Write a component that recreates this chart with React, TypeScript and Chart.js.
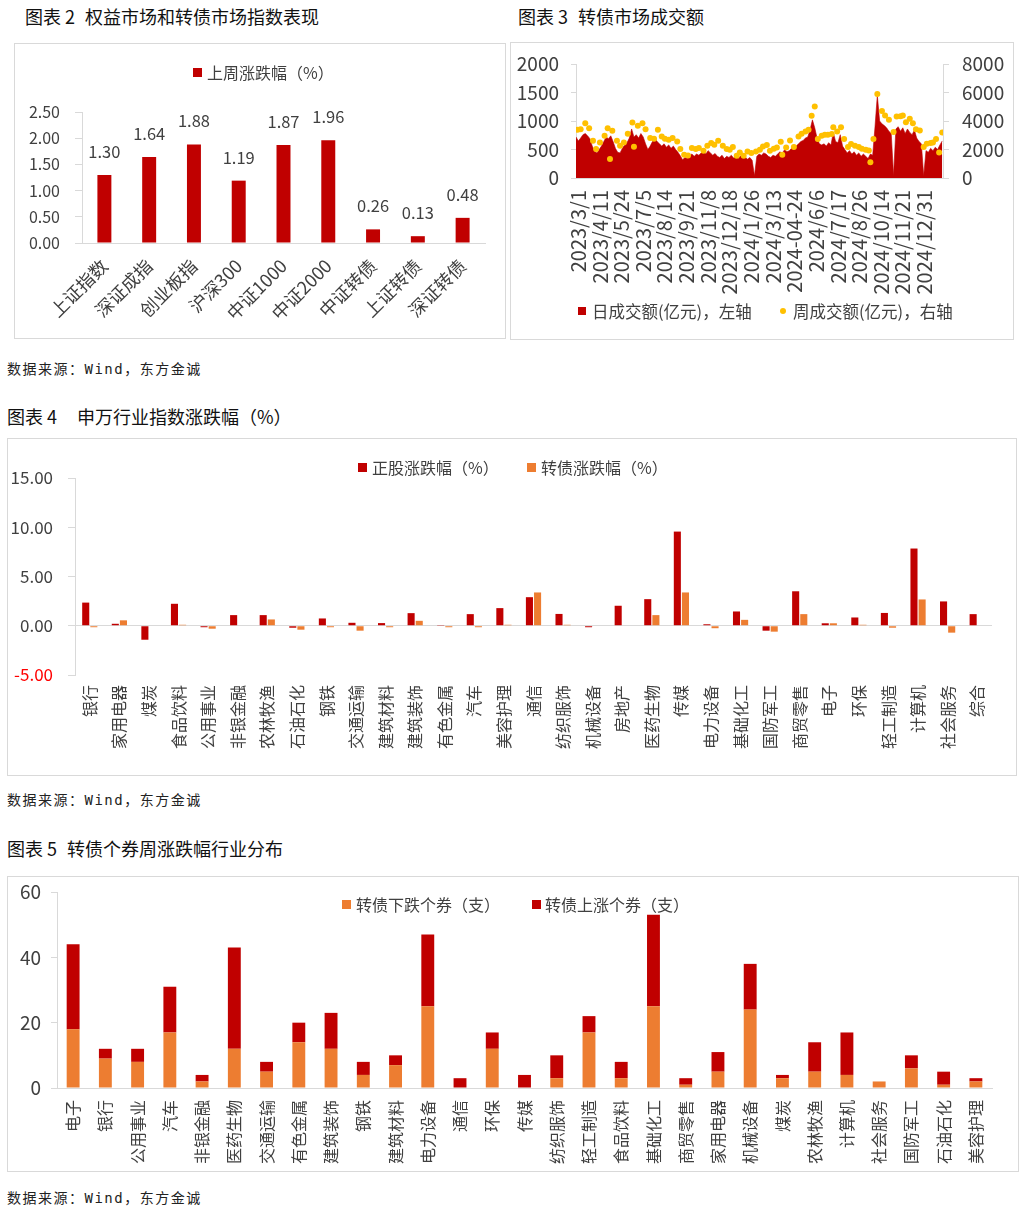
import React, { useEffect, useRef } from "react";
import { Chart, registerables } from "chart.js";

Chart.register(...registerables);

const FONT = '"Noto Sans CJK SC", "Noto Sans", sans-serif';
const RED = "#C00000";
const ORANGE = "#ED7D31";
const GOLD = "#FFC000";
const AXIS = "#D9D9D9";
const TXT = "#404040";

Chart.defaults.font.family = FONT;
Chart.defaults.color = TXT;

// ---------- 图表2 权益市场和转债市场指数表现 ----------
const indexNames = ["上证指数", "深证成指", "创业板指", "沪深300", "中证1000", "中证2000", "中证转债", "上证转债", "深证转债"];
const indexWeekChange = [1.3, 1.64, 1.88, 1.19, 1.87, 1.96, 0.26, 0.13, 0.48];

// ---------- 图表3 转债市场成交额 ----------
const turnoverTickLabels = [
  "2023/3/1", "2023/4/11", "2023/5/24", "2023/7/5", "2023/8/14", "2023/9/21", "2023/11/8", "2023/12/18",
  "2024/1/26", "2024/3/13", "2024-04-24", "2024/6/6", "2024/7/17", "2024/8/26", "2024/10/14", "2024/11/21", "2024/12/31",
];
const TICK_FIRST_DAY = 3;
const TICK_EVERY_DAYS = 28;
const DAILY_STEP_DAYS = 3;
// 日成交额(亿元) sampled every 3 trading days
const dailyTurnover = [
  720, 650, 700, 760, 780, 740, 690, 560, 470, 440,
  500, 560, 640, 720, 690, 740, 640, 520, 450, 440,
  520, 580, 620, 700, 860, 720, 760, 700, 780, 720,
  600, 500, 560, 640, 700, 640, 600, 560, 600, 540,
  580, 520, 560, 500, 450, 390, 320, 360, 340, 390,
  420, 380, 420, 400, 440, 470, 420, 480, 440, 400,
  430, 380, 360, 400, 340, 380, 360, 400, 350, 380,
  340, 390, 350, 370, 330, 360, 310, 40, 380, 420,
  400, 440, 420, 380, 360, 400, 380, 420, 460, 430,
  500, 460, 480, 520, 580, 560, 600, 640, 660, 700,
  720, 850, 1020, 880, 700, 600, 580, 600, 560, 620,
  580, 800, 640, 620, 760, 560, 500, 440, 480, 420,
  460, 400, 440, 380, 420, 380, 340, 420, 400, 900,
  1450, 1000, 950, 920, 880, 820, 780, 40, 860, 900,
  820, 880, 780, 860, 800, 760, 840, 700, 640, 600,
  40, 480, 450, 520, 480, 540, 500, 580, 650,
];
// 周成交额(亿元): trading-day index of each week and value
const weeklyDayIndex = [
  2, 6, 12, 17, 22, 26, 31, 37, 41, 44,
  47, 53, 57, 62, 67, 73, 75, 80, 86, 90,
  96, 101, 106, 111, 115, 120, 125, 131, 135, 140,
  145, 150, 155, 159, 165, 170, 175, 179, 184, 190,
  195, 199, 203, 208, 212, 217, 222, 227, 233, 238,
  242, 247, 251, 256, 260, 265, 267, 272, 277, 282,
  288, 292, 297, 301, 305, 309, 313, 318, 322, 326,
  331, 333, 338, 343, 347, 352, 356, 361, 366, 370,
  375, 379, 381, 385, 390, 396, 400, 405, 411, 415,
  420, 423, 427, 432, 436, 440, 445, 450, 454, 459,
  462, 466, 470, 474,
];
const weeklyTurnover = [
  3380, 3420, 3850, 3500, 2610, 2030, 2490, 2960, 3500, 1330,
  3310, 2610, 2260, 2490, 3100, 3890, 2190, 3660, 3850, 3420,
  2800, 2750, 3380, 2910, 2750, 2680, 2800, 2560, 2030, 1630,
  1580, 2100, 2030, 2100, 1910, 2260, 2450, 2330, 2610, 2260,
  2030, 1980, 2170, 1560, 1790, 1560, 1860, 1750, 1860, 1980,
  2210, 2310, 1910, 2050, 2140, 2540, 1630, 2140, 2630, 2170,
  2910, 3100, 3260, 3380, 4360, 5010, 2730, 2960, 3030, 3030,
  3080, 3560, 3260, 3560, 2730, 2170, 2380, 2260, 2170, 2050,
  1980, 1930, 1100, 2730, 5900, 4710, 4380, 4080, 3220, 4310,
  4330, 4380, 3910, 4150, 3850, 3420, 3330, 2170, 2400, 2450,
  2490, 2730, 1790, 3190,
];

// ---------- 图表4 申万行业指数涨跌幅 ----------
const swIndustries = [
  "银行", "家用电器", "煤炭", "食品饮料", "公用事业", "非银金融", "农林牧渔", "石油石化", "钢铁", "交通运输",
  "建筑材料", "建筑装饰", "有色金属", "汽车", "美容护理", "通信", "纺织服饰", "机械设备", "房地产", "医药生物",
  "传媒", "电力设备", "基础化工", "国防军工", "商贸零售", "电子", "环保", "轻工制造", "计算机", "社会服务", "综合",
];
const stockChange = [
  2.35, 0.2, -1.42, 2.23, -0.15, 1.08, 1.08, -0.2, 0.74, 0.3,
  0.27, 1.28, 0.02, 1.18, 1.79, 2.9, 1.2, -0.15, 2.03, 2.7,
  9.56, 0.15, 1.45, -0.5, 3.5, 0.25, 0.84, 1.3, 7.84, 2.47, 1.18,
];
const cbChange = [
  -0.15, 0.55, 0, 0.1, -0.3, 0, 0.64, -0.4, -0.15, -0.5,
  -0.15, 0.5, -0.15, -0.15, 0.1, 3.38, 0.1, 0, 0, 1.08,
  3.38, -0.25, 0.6, -0.6, 1.18, 0.25, 0.1, -0.2, 2.67, -0.7, 0,
];

// ---------- 图表5 转债个券周涨跌幅行业分布 ----------
const cbIndustries = [
  "电子", "银行", "公用事业", "汽车", "非银金融", "医药生物", "交通运输", "有色金属", "建筑装饰", "钢铁",
  "建筑材料", "电力设备", "通信", "环保", "传媒", "纺织服饰", "轻工制造", "食品饮料", "基础化工", "商贸零售",
  "家用电器", "机械设备", "煤炭", "农林牧渔", "计算机", "社会服务", "国防军工", "石油石化", "美容护理",
];
const cbDownCount = [18, 9, 8, 17, 2, 12, 5, 14, 12, 4, 7, 25, 0, 12, 0, 3, 17, 3, 25, 1, 5, 24, 3, 5, 4, 2, 6, 1, 2];
const cbUpCount = [26, 3, 4, 14, 2, 31, 3, 6, 11, 4, 3, 22, 3, 5, 4, 7, 5, 5, 28, 2, 6, 14, 1, 9, 13, 0, 4, 4, 1];

// ---------- helpers ----------
const fixW = (w: number) => (s: any) => {
  s.width = w;
  s.paddingTop = 0;
  s.paddingBottom = 0;
};
const fixH = (h: number) => (s: any) => {
  s.height = h;
};
const font = (size: number) => ({ family: FONT, size });

const baseOptions = {
  responsive: false,
  maintainAspectRatio: false,
  animation: false as const,
  devicePixelRatio: 1,
  events: [] as any[],
};

const barValueLabels = {
  id: "barValueLabels",
  afterDatasetsDraw(chart: any) {
    const ctx = chart.ctx;
    const meta = chart.getDatasetMeta(0);
    ctx.save();
    ctx.font = `16.5px ${FONT}`;
    ctx.fillStyle = TXT;
    ctx.textAlign = "center";
    ctx.textBaseline = "alphabetic";
    meta.data.forEach((el: any, i: number) => {
      ctx.fillText(indexWeekChange[i].toFixed(2), el.x, el.y - 17);
    });
    ctx.restore();
  },
};

function ChartCanvas({ width, height, make }: { width: number; height: number; make: () => any }) {
  const ref = useRef<HTMLCanvasElement>(null);
  useEffect(() => {
    const chart = new Chart(ref.current as HTMLCanvasElement, make());
    return () => chart.destroy();
  }, []);
  return <canvas ref={ref} width={width} height={height} style={{ display: "block", width, height }} />;
}

function Box({ left, top, width, height, children }: any) {
  return (
    <div
      style={{
        position: "absolute",
        left,
        top,
        width,
        height,
        border: `1px solid ${AXIS}`,
        boxSizing: "border-box",
        background: "#fff",
      }}
    >
      {children}
    </div>
  );
}

function Title({ x, y, num, text, gap = 10 }: any) {
  return (
    <div
      style={{
        position: "absolute",
        left: x,
        top: y - 12,
        height: 24,
        lineHeight: "24px",
        fontSize: 18,
        color: "#111",
        whiteSpace: "nowrap",
        fontFamily: FONT,
      }}
    >
      <span>{num}</span>
      <span style={{ marginLeft: gap }}>{text}</span>
    </div>
  );
}

function Source({ y }: { y: number }) {
  return (
    <div
      style={{
        position: "absolute",
        left: 7,
        top: y - 10,
        height: 20,
        lineHeight: "20px",
        fontSize: 14,
        letterSpacing: 1.5,
        color: "#222",
        whiteSpace: "nowrap",
        fontFamily: '"DejaVu Sans Mono", "Noto Sans CJK SC", monospace',
      }}
    >
      数据来源：Wind，东方金诚
    </div>
  );
}

function Legend({ x, y, color, label, dot = false, size = 16, gap = 5, mark = 9 }: any) {
  return (
    <div
      style={{
        position: "absolute",
        left: x,
        top: y - 11,
        height: 22,
        lineHeight: "22px",
        display: "flex",
        alignItems: "center",
        fontSize: size,
        color: TXT,
        whiteSpace: "nowrap",
        fontFamily: FONT,
      }}
    >
      <span
        style={{
          display: "inline-block",
          width: mark,
          height: mark,
          borderRadius: dot ? "50%" : 0,
          background: color,
          marginRight: gap,
        }}
      />
      {label}
    </div>
  );
}

// ---------- chart configs ----------
const makeIndexChart = () => ({
  type: "bar",
  data: {
    labels: indexNames,
    datasets: [
      {
        label: "上周涨跌幅（%）",
        data: indexWeekChange,
        backgroundColor: RED,
        categoryPercentage: 0.8,
        barPercentage: 0.39,
      },
    ],
  },
  options: {
    ...baseOptions,
    layout: { padding: { top: 68, right: 20, left: 0, bottom: 0 } },
    plugins: { legend: { display: false }, tooltip: { enabled: false } },
    scales: {
      x: {
        grid: { display: false, drawTicks: false },
        border: { color: AXIS },
        ticks: { font: font(18), color: TXT, minRotation: 45, maxRotation: 45, autoSkip: false, padding: 12 },
        afterFit: fixH(95),
      },
      y: {
        min: 0,
        max: 2.5,
        ticks: { stepSize: 0.5, callback: (v: any) => Number(v).toFixed(2), font: font(16), color: TXT, padding: 15 },
        grid: { drawOnChartArea: false, tickLength: 7, tickColor: AXIS, color: AXIS },
        border: { color: AXIS },
        afterFit: fixW(67),
      },
    },
  },
  plugins: [barValueLabels],
});

const makeTurnoverChart = () => ({
  type: "line",
  data: {
    datasets: [
      {
        label: "周成交额(亿元)，右轴",
        data: weeklyTurnover.map((v, i) => ({ x: weeklyDayIndex[i], y: v })),
        yAxisID: "y2",
        showLine: false,
        pointRadius: 3,
        pointBackgroundColor: GOLD,
        pointBorderColor: GOLD,
        pointBorderWidth: 0,
        order: 0,
      },
      {
        label: "日成交额(亿元)，左轴",
        data: dailyTurnover.map((v, i) => ({ x: i * DAILY_STEP_DAYS, y: v })),
        yAxisID: "y",
        fill: "origin",
        backgroundColor: RED,
        borderColor: RED,
        borderWidth: 0.6,
        pointRadius: 0,
        tension: 0,
        order: 1,
      },
    ],
  },
  options: {
    ...baseOptions,
    layout: { padding: { top: 21, right: 0, left: 0, bottom: 0 } },
    plugins: { legend: { display: false }, tooltip: { enabled: false } },
    scales: {
      x: {
        type: "linear",
        min: 0,
        max: 475,
        afterBuildTicks: (s: any) => {
          s.ticks = turnoverTickLabels.map((_, k) => ({ value: TICK_FIRST_DAY + TICK_EVERY_DAYS * k }));
        },
        ticks: {
          autoSkip: false,
          minRotation: 90,
          maxRotation: 90,
          callback: (_v: any, i: number) => turnoverTickLabels[i],
          font: font(20),
          color: TXT,
          padding: 12,
        },
        grid: { display: false, drawTicks: false },
        border: { color: AXIS },
        afterFit: fixH(161),
      },
      y: {
        position: "left",
        min: 0,
        max: 2000,
        ticks: { stepSize: 500, callback: (v: any) => String(v), font: font(19), color: TXT, padding: 12 },
        grid: { drawOnChartArea: false, tickLength: 5, tickColor: AXIS, color: AXIS },
        border: { color: AXIS },
        afterFit: fixW(65),
      },
      y2: {
        position: "right",
        min: 0,
        max: 8000,
        ticks: { stepSize: 2000, callback: (v: any) => String(v), font: font(19), color: TXT, padding: 13 },
        grid: { drawOnChartArea: false, tickLength: 6, tickColor: AXIS, color: AXIS },
        border: { color: AXIS },
        afterFit: fixW(70),
      },
    },
  },
});

const makeIndustryChart = () => ({
  type: "bar",
  data: {
    labels: swIndustries,
    datasets: [
      { label: "正股涨跌幅（%）", data: stockChange, backgroundColor: RED, categoryPercentage: 0.55, barPercentage: 0.87 },
      { label: "转债涨跌幅（%）", data: cbChange, backgroundColor: ORANGE, categoryPercentage: 0.55, barPercentage: 0.87 },
    ],
  },
  options: {
    ...baseOptions,
    layout: { padding: { top: 39, right: 24, left: 0, bottom: 0 } },
    plugins: { legend: { display: false }, tooltip: { enabled: false } },
    scales: {
      x: {
        grid: { display: false, drawTicks: false },
        border: { display: false },
        ticks: { font: font(16), color: TXT, minRotation: 90, maxRotation: 90, autoSkip: false, padding: 10 },
        afterFit: fixH(100),
      },
      y: {
        min: -5,
        max: 15,
        ticks: {
          stepSize: 5,
          callback: (v: any) => Number(v).toFixed(2),
          font: font(17),
          color: (c: any) => (c.tick && c.tick.value < 0 ? "#FF0000" : TXT),
          padding: 15,
        },
        grid: {
          color: (c: any) => (c.tick && c.tick.value === 0 ? AXIS : "rgba(0,0,0,0)"),
          tickColor: AXIS,
          tickLength: 7,
        },
        border: { color: AXIS },
        afterFit: fixW(67),
      },
    },
  },
});

const makeCountChart = () => ({
  type: "bar",
  data: {
    labels: cbIndustries,
    datasets: [
      { label: "转债下跌个券（支）", data: cbDownCount, backgroundColor: ORANGE, categoryPercentage: 0.8, barPercentage: 0.5 },
      { label: "转债上涨个券（支）", data: cbUpCount, backgroundColor: RED, categoryPercentage: 0.8, barPercentage: 0.5 },
    ],
  },
  options: {
    ...baseOptions,
    layout: { padding: { top: 15, right: 26, left: 0, bottom: 0 } },
    plugins: { legend: { display: false }, tooltip: { enabled: false } },
    scales: {
      x: {
        stacked: true,
        grid: { display: false, drawTicks: false },
        border: { color: AXIS },
        ticks: { font: font(16), color: TXT, minRotation: 90, maxRotation: 90, autoSkip: false, padding: 12 },
        afterFit: fixH(83),
      },
      y: {
        stacked: true,
        min: 0,
        max: 60,
        ticks: { stepSize: 20, font: font(19), color: TXT, padding: 10 },
        grid: { drawOnChartArea: false, tickLength: 6, tickColor: AXIS, color: AXIS },
        border: { color: AXIS },
        afterFit: fixW(49),
      },
    },
  },
});

export default function App() {
  return (
    <div
      style={{
        position: "absolute",
        left: 0,
        top: 0,
        width: 1024,
        height: 1224,
        background: "#fff",
        overflow: "hidden",
        fontFamily: FONT,
      }}
    >
      {/* 图表2 */}
      <Title x={25} y={16} num="图表 2" text="权益市场和转债市场指数表现" />
      <Box left={14} top={43} width={492} height={296}>
        <ChartCanvas width={490} height={294} make={makeIndexChart} />
      </Box>
      <Legend x={193} y={72} color={RED} label="上周涨跌幅（%）" />

      {/* 图表3 */}
      <Title x={518} y={16} num="图表 3" text="转债市场成交额" />
      <Box left={510} top={42} width={504} height={298}>
        <ChartCanvas width={502} height={296} make={makeTurnoverChart} />
      </Box>
      <Legend x={578} y={311} color={RED} label="日成交额(亿元)，左轴" size={16.5} gap={6} mark={8} />
      <Legend x={780} y={311} color={GOLD} label="周成交额(亿元)，右轴" size={16.5} gap={7} mark={6} dot />

      <Source y={369} />

      {/* 图表4 */}
      <Title x={7} y={416} num="图表 4" text="申万行业指数涨跌幅（%）" gap={20} />
      <Box left={7} top={438} width={1010} height={338}>
        <ChartCanvas width={1008} height={336} make={makeIndustryChart} />
      </Box>
      <Legend x={358} y={467} color={RED} label="正股涨跌幅（%）" />
      <Legend x={527} y={467} color={ORANGE} label="转债涨跌幅（%）" />

      <Source y={800} />

      {/* 图表5 */}
      <Title x={7} y={848} num="图表 5" text="转债个券周涨跌幅行业分布" />
      <Box left={7} top={876} width={1012} height={296}>
        <ChartCanvas width={1010} height={294} make={makeCountChart} />
      </Box>
      <Legend x={342} y={904} color={ORANGE} label="转债下跌个券（支）" />
      <Legend x={532} y={904} color={RED} label="转债上涨个券（支）" gap={4} />

      <Source y={1198} />
    </div>
  );
}
